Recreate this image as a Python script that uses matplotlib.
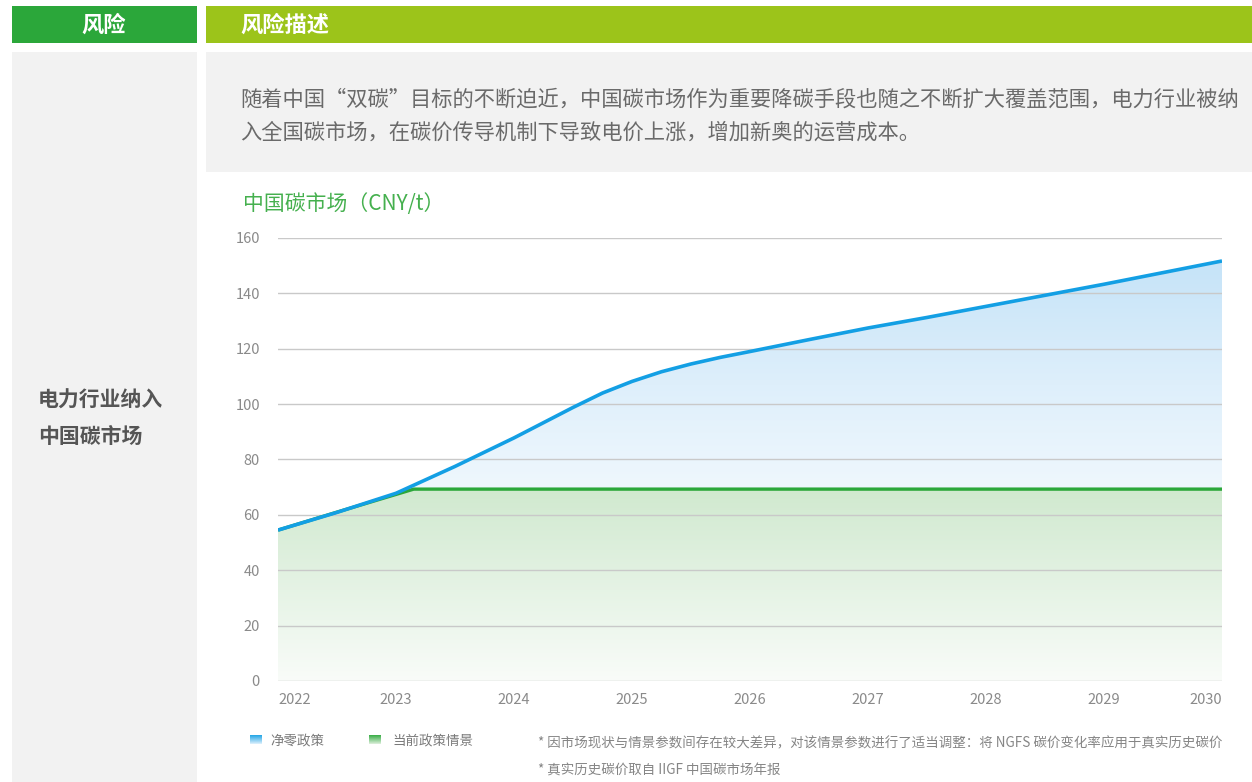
import numpy as np
import matplotlib
matplotlib.use('Agg')
import matplotlib.pyplot as plt
from matplotlib.patches import Rectangle, Polygon
from matplotlib.colors import to_rgb

plt.rcParams['font.family'] = ['Noto Sans CJK SC', 'DejaVu Sans']

# carbon price (CNY/t)
years = [2022, 2022.5, 2023, 2023.5, 2024, 2024.25, 2024.5, 2024.75, 2025,
         2025.25, 2025.5, 2025.75, 2026, 2026.5, 2027, 2027.5, 2028,
         2028.5, 2029, 2029.5, 2030]
net_zero = [54.5, 60.9, 67.8, 77.5, 87.8, 93.3, 98.8, 104.0, 108.2,
            111.7, 114.5, 116.9, 119.0, 123.3, 127.5, 131.3, 135.3,
            139.3, 143.3, 147.5, 151.7]
cur_years = [2022, 2022.5, 2023.15, 2030]
cur_policy = [54.5, 61.0, 69.3, 69.3]
tick_years = list(range(2022, 2031))
y_ticks = list(range(0, 161, 20))

W, H = 1252, 782
fig = plt.figure(figsize=(W / 100, H / 100), dpi=100)

def box(x, y, w, h, color):
    fig.add_artist(Rectangle((x / W, 1 - (y + h) / H), w / W, h / H,
                             transform=fig.transFigure, color=color, lw=0, zorder=0))

def txt(x, y, s, **kw):
    fig.text(x / W, 1 - y / H, s, **kw)

# header + panels
box(12, 6, 185, 37, '#2ba73a')
box(206, 6, 1046, 37, '#9cc41a')
box(12, 52, 185, 730, '#f2f2f2')
box(206, 52, 1046, 120, '#f2f2f2')
txt(104, 25, '风险', color='white', fontsize=16, fontweight='bold', ha='center', va='center')
txt(240, 25, '风险描述', color='white', fontsize=16, fontweight='bold', ha='left', va='center')
txt(38, 400, '电力行业纳入', color='#555555', fontsize=15, fontweight='bold', va='center')
txt(38, 436, '中国碳市场', color='#555555', fontsize=15, fontweight='bold', va='center')
txt(240, 100, '随着中国“双碳”目标的不断迫近，中国碳市场作为重要降碳手段也随之不断扩大覆盖范围，电力行业被纳',
    color='#6a6a6a', fontsize=15.3, va='center')
txt(240, 133, '入全国碳市场，在碳价传导机制下导致电价上涨，增加新奥的运营成本。',
    color='#6a6a6a', fontsize=15.3, va='center')
txt(243, 204, '中国碳市场（CNY/t）', color='#45b04e', fontsize=15, va='center')

# chart
ax = fig.add_axes([278 / W, 1 - 681 / H, 944 / W, 443 / H])

def grad_fill(x, y, top_col, bot_col, ymax, power=1.0):
    x = np.asarray(x, float)
    y = np.asarray(y, float)
    verts = np.column_stack([np.r_[x[0], x, x[-1]], np.r_[0, y, 0]])
    patch = Polygon(verts, closed=True, facecolor='none', edgecolor='none')
    ax.add_patch(patch)
    t = np.linspace(1, 0, 256) ** power
    c1, c0 = np.array(to_rgb(top_col)), np.array(to_rgb(bot_col))
    img = (c0[None, :] + t[:, None] * (c1 - c0)[None, :])[:, None, :]
    im = ax.imshow(img, extent=[x[0], x[-1], 0, ymax], origin='upper',
                   aspect='auto', zorder=1)
    im.set_clip_path(patch)

grad_fill(years, net_zero, '#c5e3f8', '#ffffff', max(net_zero), power=1.6)
grad_fill(cur_years, cur_policy, '#d0e9cf', '#f9fcf9', max(cur_policy))
ax.set_xlim(2022, 2030)
ax.set_ylim(0, 160)

ax.plot(years, net_zero, color='#139fe4', lw=2.6, zorder=5,
        solid_capstyle='butt', solid_joinstyle='round')
ax.plot(cur_years, cur_policy, color='#2ba73a', lw=2.4, zorder=4, solid_capstyle='butt')

ax.set_yticks(y_ticks)
ax.set_xticks(tick_years)
ax.grid(axis='y', color='#c9c9c9', lw=1)
ax.set_axisbelow(False)
for s in ax.spines.values():
    s.set_visible(False)
ax.tick_params(length=0, labelcolor='#8a8a8a', labelsize=10.5)
ax.tick_params(axis='y', pad=13)
ax.tick_params(axis='x', pad=9)
xl = ax.get_xticklabels()
xl[0].set_ha('left')
xl[-1].set_ha('right')

# legend swatches
def swatch(x, y, top_col, bot_col):
    sa = fig.add_axes([x / W, 1 - (y + 9) / H, 12 / W, 9 / H])
    c1, c0 = np.array(to_rgb(top_col)), np.array(to_rgb(bot_col))
    t = np.linspace(1, 0, 9)
    sa.imshow((c0 + t[:, None] * (c1 - c0))[:, None, :], aspect='auto')
    sa.axis('off')

swatch(250, 735, '#139fe4', '#d6edfb')
swatch(369, 735, '#2ba73a', '#d6ecd5')
txt(270, 740, '净零政策', color='#7a7a7a', fontsize=9.7, va='center')
txt(392, 740, '当前政策情景', color='#7a7a7a', fontsize=9.7, va='center')
txt(538, 743, '* 因市场现状与情景参数间存在较大差异，对该情景参数进行了适当调整：将 NGFS 碳价变化率应用于真实历史碳价',
    color='#858585', fontsize=9.7, va='center')
txt(538, 771, '* 真实历史碳价取自 IIGF 中国碳市场年报', color='#858585', fontsize=9.7, va='center')

fig.savefig('out.png', dpi=100)
